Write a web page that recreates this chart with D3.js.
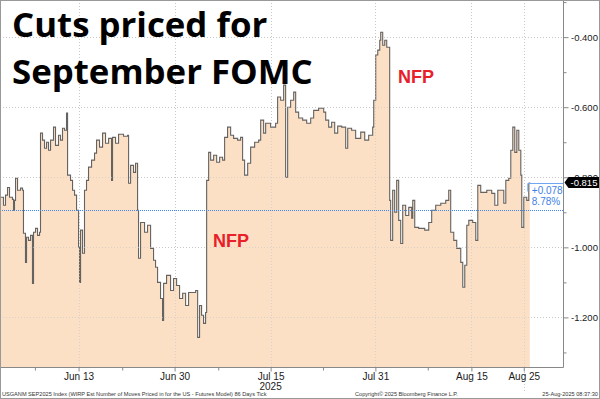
<!DOCTYPE html>
<html lang="en">
<head>
<meta charset="UTF-8">
<title>Cuts priced for September FOMC</title>
<script src="https://d3js.org/d3.v7.min.js"></script>
<style>
  body { margin: 0; background: #fff; }
  .axis text { font-family: "Liberation Sans", Arial, sans-serif; font-size: 10px; fill: #1a1a1a; }
  .axis path, .axis line { stroke: #888; }
  .yax text { font-size: 9.5px; }
  .grid line { stroke: #c8c8c8; stroke-dasharray: 1,2; shape-rendering: crispEdges; }
  .title { font-family: "Open Sans", sans-serif; font-weight: bold; font-size: 34.8px; fill: #000; }
  .nfp { font-family: "Liberation Sans", Arial, sans-serif; font-weight: bold; font-size: 18px; fill: #e8202a; }
  .foot { font-family: "Liberation Sans", Arial, sans-serif; font-size: 5.6px; fill: #333; }
  .chg { font-family: "Liberation Sans", Arial, sans-serif; font-size: 10px; fill: #3d7fe6; }
</style>
</head>
<body>
<div id="chart"></div>
<script>
// time in trading sessions since Mon Jun 2 2025 (weekdays)
const tickTime = [0, 0.40, 0.63, 0.86, 1.09, 1.43, 1.55, 1.66, 1.78, 2.01, 2.35, 2.58, 2.69, 2.92, 3.04, 3.27, 3.50, 3.72, 3.84, 4.07,
  4.30, 4.53, 4.64, 4.87, 5.10, 5.33, 5.56, 5.79, 6.13, 6.36, 6.70, 6.93, 7.16, 7.39, 7.62, 7.74, 8.08, 8.31, 8.54, 8.77,
  9.00, 9.11, 9.23, 9.46, 9.68, 9.91, 10.14, 10.49, 10.83, 11.06, 11.40, 11.75, 12.09, 12.44, 12.78, 12.89, 13.24, 13.58, 14.15, 14.61,
  14.73, 14.96, 15.30, 15.53, 15.76, 15.87, 16.10, 16.56, 16.90, 17.25, 17.59, 17.82, 18.05, 18.39, 18.62, 18.74, 19.08, 19.54, 19.88, 20.23,
  20.57, 20.92, 21.26, 21.60, 22.06, 22.41, 22.64, 22.86, 23.09, 23.32, 23.55, 23.67, 23.90, 24.13, 24.47, 24.82, 25.16, 25.50, 25.73, 26.07,
  26.42, 26.76, 27.22, 27.56, 27.79, 28.02, 28.37, 28.71, 29.17, 29.63, 29.86, 30.20, 30.43, 31.00, 31.57, 31.80, 32.15, 32.49, 32.72, 32.95,
  33.29, 33.64, 33.87, 34.21, 34.67, 35.13, 35.59, 35.93, 36.50, 37.08, 37.31, 37.65, 37.99, 38.34, 38.68, 39.14, 39.60, 39.83, 40.28, 40.74,
  41.32, 41.78, 42.23, 42.69, 42.81, 43.04, 43.27, 43.50, 43.61, 43.84, 44.07, 44.30, 44.53, 44.64, 44.75, 44.98, 45.21, 45.44, 45.67, 45.90,
  46.13, 46.47, 46.82, 47.16, 47.28, 47.51, 47.96, 48.65, 49.11, 49.45, 49.91, 50.49, 51.06, 51.40, 51.63, 51.98, 52.32, 52.78, 53.01, 53.24,
  53.47, 53.70, 54.15, 54.50, 54.73, 55.07, 55.76, 56.33, 56.68, 57.02, 57.48, 57.71, 57.94, 58.28, 58.51, 58.74, 58.97, 59.20, 59.43, 59.66,
  59.77, 60.00, 60.34, 60.57, 60.69];
const movesPriced = [-0.857, -0.880, -0.851, -0.829, -0.857, -0.863, -0.894, -0.866, -0.803, -0.837, -0.831, -0.837, -0.960, -1.043, -0.971, -0.980, -0.966, -1.103, -0.957, -0.946,
  -0.966, -0.957, -0.674, -0.694, -0.717, -0.700, -0.723, -0.694, -0.657, -0.709, -0.680, -0.694, -0.660, -0.666, -0.617, -0.794, -0.809, -0.837, -0.851, -0.894,
  -1.000, -1.100, -0.951, -1.017, -0.837, -0.809, -0.771, -0.751, -0.731, -0.694, -0.714, -0.674, -0.703, -0.689, -0.809, -0.686, -0.703, -0.677, -0.683, -0.680,
  -0.817, -0.766, -0.786, -0.760, -0.894, -1.031, -0.929, -0.957, -0.937, -1.003, -1.037, -1.057, -1.100, -1.146, -1.209, -1.103, -1.080, -1.123, -1.089, -1.109,
  -1.146, -1.131, -1.166, -1.129, -1.129, -1.123, -1.257, -1.166, -1.194, -1.217, -1.186, -0.809, -0.729, -0.751, -0.737, -0.757, -0.743, -0.751, -0.686, -0.657,
  -0.680, -0.689, -0.694, -0.686, -0.751, -0.794, -0.760, -0.714, -0.700, -0.694, -0.637, -0.674, -0.646, -0.657, -0.646, -0.571, -0.580, -0.537, -0.800, -0.600,
  -0.580, -0.557, -0.614, -0.631, -0.637, -0.646, -0.631, -0.609, -0.603, -0.614, -0.637, -0.657, -0.643, -0.674, -0.654, -0.657, -0.717, -0.660, -0.666, -0.689,
  -0.671, -0.694, -0.680, -0.657, -0.580, -0.451, -0.437, -0.409, -0.386, -0.423, -0.409, -0.429, -0.429, -0.866, -0.980, -0.837, -0.900, -0.809, -0.923, -0.989,
  -0.880, -0.909, -0.886, -0.917, -0.866, -0.943, -0.946, -0.951, -0.929, -0.894, -0.880, -0.874, -0.866, -0.837, -0.957, -0.980, -1.003, -1.043, -1.114, -1.051,
  -0.937, -0.923, -0.929, -0.980, -0.823, -0.843, -0.837, -0.846, -0.880, -0.837, -0.837, -0.874, -0.809, -0.803, -0.723, -0.657, -0.729, -0.666, -0.723, -0.794,
  -0.943, -0.857, -0.866, -0.817, -0.815];

const xTickDays = [9, 20, 31, 43, 54, 60];
const xTickLabels = ["Jun 13", "Jun 30", "Jul 15", "Jul 31", "Aug 15", "Aug 25"];
const xMinorDays = [4, 14, 25, 37, 49];
const yTicks = [-0.4, -0.6, -0.8, -1.0, -1.2];
const yMinorTicks = [-0.3, -0.5, -0.7, -0.9, -1.1, -1.3];
const refLevel = -0.893;
const lastValue = -0.815;
const changeLabels = ["+0.078", "8.78%"];
const annotations = [{ t: 24.4, v: -1.0, text: "NFP" }, { t: 45.6, v: -0.53, text: "NFP" }];

const W = 600, H = 399;
const plot = { left: 0, right: 563.5, top: 0, bottom: 367.5 };

const data = tickTime.map((t, i) => ({ t, v: movesPriced[i] }));

const svg = d3.select("#chart").append("svg")
  .attr("width", W).attr("height", H);

const x = d3.scaleLinear().domain([0, 64.55]).range([plot.left, plot.right]);
const y = d3.scaleLinear().domain([-1.343, -0.294]).range([plot.bottom, plot.top]);

// grid under the fill
const grid = svg.append("g").attr("class", "grid");
grid.selectAll(".hg").data(yTicks).join("line")
  .attr("x1", plot.left).attr("x2", plot.right)
  .attr("y1", d => Math.round(y(d)) + 0.5).attr("y2", d => Math.round(y(d)) + 0.5);
grid.selectAll(".vg").data(xTickDays).join("line")
  .attr("x1", d => Math.round(x(d)) + 0.5).attr("x2", d => Math.round(x(d)) + 0.5)
  .attr("y1", plot.top).attr("y2", (d, i) => i === xTickDays.length - 1 ? 392 : plot.bottom);

// area + line
const area = d3.area().curve(d3.curveStepAfter)
  .x(d => x(d.t)).y0(plot.bottom).y1(d => y(d.v));
const line = d3.line().curve(d3.curveStepAfter)
  .x(d => x(d.t)).y(d => y(d.v));

svg.append("path").datum(data).attr("d", area)
  .attr("fill", "#fbe0c6");
svg.append("path").datum(data).attr("d", line)
  .attr("fill", "none").attr("stroke", "#4a4a4a").attr("stroke-width", 1.1).attr("stroke-opacity", 0.85);

// faint grid over the fill
svg.append("g").attr("class", "grid").attr("opacity", 0.6)
  .selectAll("line").data(yTicks).join("line")
  .attr("x1", plot.left).attr("x2", plot.right)
  .attr("y1", d => Math.round(y(d)) + 0.5).attr("y2", d => Math.round(y(d)) + 0.5);
svg.append("g").attr("class", "grid").attr("opacity", 0.6)
  .selectAll("line").data(xTickDays).join("line")
  .attr("x1", d => Math.round(x(d)) + 0.5).attr("x2", d => Math.round(x(d)) + 0.5)
  .attr("y1", plot.top).attr("y2", plot.bottom);

// reference level (blue dotted)
svg.append("line")
  .attr("x1", plot.left).attr("x2", plot.right)
  .attr("y1", Math.round(y(refLevel)) + 0.5).attr("y2", Math.round(y(refLevel)) + 0.5)
  .attr("stroke", "#3d86f0").attr("stroke-width", 1).attr("stroke-dasharray", "1,1");

// change box
const lastX = x(tickTime[tickTime.length - 1]) - 2;
const lastY = Math.round(y(lastValue)) + 0.5;
svg.append("path")
  .attr("d", `M${plot.right},${lastY}H${lastX}V${lastY + 8}`)
  .attr("fill", "none").attr("stroke", "#6fa6f5").attr("stroke-width", 1);
svg.selectAll(".chg").data(changeLabels).join("text")
  .attr("class", "chg")
  .attr("x", lastX + 4).attr("y", (d, i) => lastY + 10 + i * 11)
  .text(d => d);

// axes
const yAxis = svg.append("g").attr("class", "axis yax")
  .attr("transform", `translate(${plot.right},0)`)
  .call(d3.axisRight(y).tickValues(yTicks).tickSize(5).tickPadding(2.5).tickFormat(d => d.toFixed(3)));
yAxis.select(".domain").attr("d", `M0,${plot.top}V${plot.bottom}`);
svg.append("g").attr("class", "axis")
  .attr("transform", `translate(${plot.right},0)`)
  .call(d3.axisRight(y).tickValues(yMinorTicks).tickSize(3).tickFormat(""))
  .select(".domain").remove();

const xAxis = svg.append("g").attr("class", "axis")
  .attr("transform", `translate(0,${plot.bottom})`)
  .call(d3.axisBottom(x).tickValues(xTickDays).tickSize(4).tickPadding(1)
    .tickFormat((d, i) => xTickLabels[i]));
xAxis.select(".domain").attr("d", `M${plot.left},0H${plot.right}`);
svg.append("g").attr("class", "axis")
  .attr("transform", `translate(0,${plot.bottom})`)
  .call(d3.axisBottom(x).tickValues(xMinorDays).tickSize(3).tickFormat(""))
  .select(".domain").remove();
svg.append("text")
  .attr("x", x(31)).attr("y", 389.5).attr("text-anchor", "middle")
  .attr("font-family", "Liberation Sans, Arial, sans-serif").attr("font-size", 10)
  .attr("fill", "#1a1a1a").text("2025");

// last value tag
const tagY = y(lastValue);
svg.append("path")
  .attr("d", `M${plot.right + 1},${tagY}L${plot.right + 5},${tagY - 5.5}H${W}V${tagY + 5.5}H${plot.right + 5}Z`)
  .attr("fill", "#000");
svg.append("text").attr("x", plot.right + 7).attr("y", tagY + 3.5)
  .attr("font-family", "Liberation Sans, Arial, sans-serif").attr("font-size", 9.5)
  .attr("fill", "#fff").text(lastValue.toFixed(3));

// title
svg.append("text").attr("class", "title").attr("x", 12).attr("y", 37).text("Cuts priced for");
svg.append("text").attr("class", "title").attr("x", 12).attr("y", 84).text("September FOMC");

// NFP annotations
svg.selectAll(".nfp").data(annotations).join("text")
  .attr("class", "nfp")
  .attr("x", d => x(d.t)).attr("y", d => y(d.v))
  .text(d => d.text);

// footer
svg.append("text").attr("class", "foot").attr("x", 2).attr("y", 396)
  .text("USGANM SEP2025 Index (WIRP Est Number of Moves Priced in for the US - Futures Model) 86 Days  Tick");
svg.append("text").attr("class", "foot").attr("x", 355).attr("y", 396)
  .text("Copyright\u00a9 2025 Bloomberg Finance L.P.");
svg.append("text").attr("class", "foot").attr("x", 598).attr("y", 396).attr("text-anchor", "end")
  .text("25-Aug-2025 08:37:30");

// frame
svg.append("rect").attr("x", 0.5).attr("y", 0.5).attr("width", W - 1).attr("height", H - 1)
  .attr("fill", "none").attr("stroke", "#999");
</script>
</body>
</html>
